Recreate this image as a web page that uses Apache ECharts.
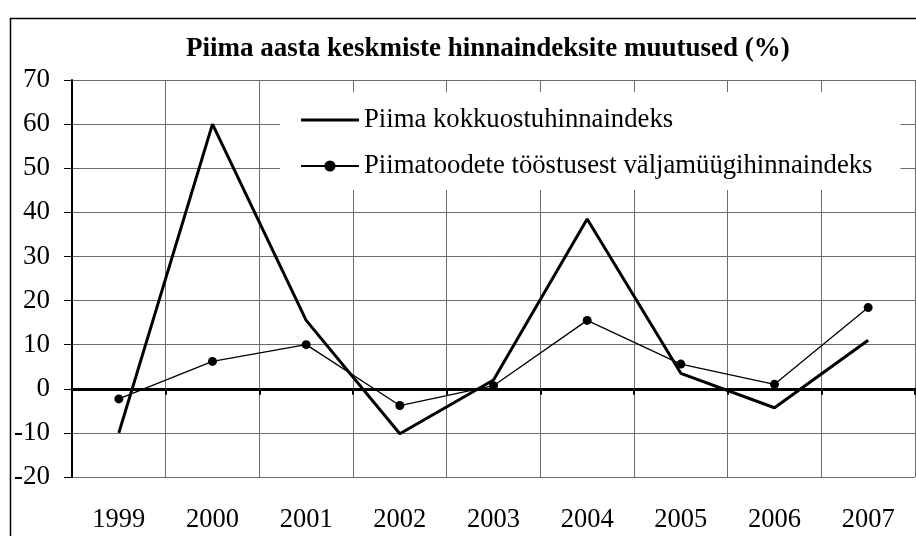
<!DOCTYPE html>
<html><head><meta charset="utf-8">
<script src="https://cdn.jsdelivr.net/npm/echarts@6/dist/echarts.min.js"></script>
<style>html,body{margin:0;padding:0;background:#fff}#c{width:916px;height:536px}</style>
</head><body><div id="c"></div>
<script>
var titleText = 'Piima aasta keskmiste hinnaindeksite muutused (%)';
var years = ['1999','2000','2001','2002','2003','2004','2005','2006','2007'];
var nameA = 'Piima kokkuostuhinnaindeks';
var nameB = 'Piimatoodete tööstusest väljamüügihinnaindeks';
var valuesA = [-10, 60, 15.5, -10.2, 2, 38.5, 3.5, -4.3, 11];
var valuesB = [-2.3, 6.2, 10, -3.8, 0.7, 15.5, 5.6, 1, 18.4];
var yMin = -20, yMax = 70, yStep = 10;

var FONT = '"Liberation Serif", "DejaVu Serif", serif';
var chart = echarts.init(document.getElementById('c'), null, {renderer:'canvas'});
chart.setOption({
  animation: false,
  backgroundColor: '#fff',
  title: {
    text: titleText, left: 181, top: 29,
    textStyle: {fontFamily: FONT, fontWeight: 'bold', fontSize: 27, color: '#000', lineHeight: 30}
  },
  graphic: [{
    type: 'rect', left: 8, top: 16, z: 0, silent: true,
    shape: {x: 0, y: 0, width: 930, height: 560},
    style: {fill: 'none', stroke: '#000', lineWidth: 1.5}
  }],
  legend: {
    orient: 'vertical', left: 280, top: 92,
    padding: [14, 28, 10, 20],
    backgroundColor: '#fff',
    itemWidth: 58, itemHeight: 14, itemGap: 18,
    textStyle: {fontFamily: FONT, fontSize: 26.7, color: '#000', lineHeight: 28},
    data: [
      {name: nameA, icon: 'path://M0,0h58v3h-58z'},
      {name: nameB}
    ],
    z: 10
  },
  grid: {left: 72, top: 80, right: 1, bottom: 59, containLabel: false},
  xAxis: [{
    type: 'category', data: years, position: 'bottom', boundaryGap: true,
    axisLine: {show: false, onZero: false},
    axisTick: {show: false},
    splitLine: {show: true, lineStyle: {color: '#6b6b6b', width: 1}},
    axisLabel: {fontFamily: FONT, fontSize: 26.5, color: '#000', margin: 30}
  }, {
    type: 'category', data: years, position: 'bottom', boundaryGap: true,
    axisLine: {show: true, onZero: true, lineStyle: {color: '#000', width: 3}},
    axisTick: {show: true, inside: false, length: 6, lineStyle: {color: '#000', width: 2}},
    axisLabel: {show: false},
    splitLine: {show: false}
  }],
  yAxis: {
    type: 'value', min: yMin, max: yMax, interval: yStep,
    axisLine: {show: true, onZero: false, lineStyle: {color: '#000', width: 2}},
    axisTick: {show: true, length: 8, lineStyle: {color: '#000', width: 1}},
    splitLine: {show: true, lineStyle: {color: '#6b6b6b', width: 1}},
    axisLabel: {fontFamily: FONT, fontSize: 27, color: '#000', margin: 22}
  },
  series: [{
    name: nameA, type: 'line', data: valuesA, xAxisIndex: 0,
    symbol: 'none', lineStyle: {color: '#000', width: 3}, itemStyle: {color: '#000'}, z: 3
  }, {
    name: nameB, type: 'line', data: valuesB, xAxisIndex: 0,
    symbol: 'circle', symbolSize: 9, showSymbol: true,
    lineStyle: {color: '#000', width: 1.3}, itemStyle: {color: '#000'}, z: 4
  }]
});
</script></body></html>
